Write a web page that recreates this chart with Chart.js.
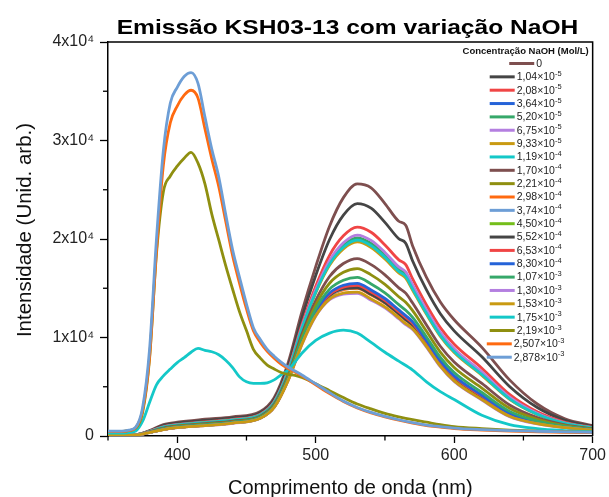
<!DOCTYPE html>
<html>
<head>
<meta charset="utf-8">
<script src="https://cdn.jsdelivr.net/npm/chart.js@4.4.1/dist/chart.umd.min.js"></script>
<style>
html,body{margin:0;padding:0;background:#fff;}
#wrap{width:609px;height:497px;position:relative;}
</style>
</head>
<body>
<div id="wrap"><canvas id="c" width="609" height="497"></canvas></div>
<script>
// ---------- DATA ----------
const TITLE = 'Emissão KSH03-13 com variação NaOH';
const X_TITLE = 'Comprimento de onda (nm)';
const Y_TITLE = 'Intensidade (Unid. arb.)';
const LEGEND_TITLE = 'Concentração NaOH (Mol/L)';

// wavelength grids (nm)
const WL_A = [350,370,380,390,400,420,440,460,470,480,490,500,510,520,530,540,550,560,565,570,580,590,600,620,640,660,680,700];
const WL_B = [350,355,360,365,370,375,380,385,390,395,400,405,410,415,420,425,430,435,440,445,450,455,460,465,470,475,480,485,490,500,510,520,530,540,550,560,570,580,590,600,620,640,660,680,700];

// legend labels: mantissa and power of ten
const CONC_MANT = ['0','1,04','2,08','3,64','5,20','6,75','9,33','1,19','1,70','2,21','2,98','3,74','4,50','5,52','6,53','8,30','1,07','1,30','1,53','1,75','2,19','2,507','2,878'];
const CONC_EXP  = [null,-5,-5,-5,-5,-5,-5,-4,-4,-4,-4,-4,-4,-4,-4,-4,-3,-3,-3,-3,-3,-3,-3];

const COLORS = ['#7e4f4f','#454545','#f04545','#2563d8','#36a86a','#b47fe0','#c99a12','#14c8c8','#7e4f4f','#8f8f10',
                '#ff6a10','#6d9ed6','#74be1a','#454545','#f04545','#2563d8','#36a86a','#b47fe0','#c99a12','#14c8c8',
                '#8f8f10','#ff6a10','#6d9ed6'];

// intensities on WL_A (530 nm band)
const INT_00 = [150,150,550,1150,1400,1700,1950,2500,3900,7400,12600,17200,21300,24200,25600,25200,23600,21800,21400,19300,16100,13600,11800,9000,5700,3250,1750,1050];
const INT_01 = [140,140,510,1060,1300,1580,1830,2370,3720,7070,12000,16290,19950,22430,23600,23140,21690,20020,19580,17770,14830,12420,10670,8040,5030,2890,1590,970];
const INT_02 = [130,130,470,950,1180,1440,1690,2220,3500,6680,11280,15200,18340,20320,21200,20680,19400,17880,17400,15940,13300,11000,9320,6880,4220,2450,1390,870];
const INT_03 = [125,125,450,895,1120,1370,1620,2140,3390,6480,10920,14650,17530,19250,19990,19440,18250,16800,16300,15020,12530,10290,8640,6300,3810,2230,1290,820];
const INT_04 = [125,125,450,900,1125,1375,1625,2150,3400,6500,10950,14700,17600,19350,20100,19550,18350,16900,16400,15100,12600,10350,8700,6350,3850,2250,1300,825];
const INT_05 = [126,126,455,914,1140,1393,1643,2169,3427,6549,11040,14835,17800,19610,20400,19855,18635,17165,16670,15330,12790,10530,8870,6490,3950,2300,1320,840];
const INT_06 = [123,123,443,882,1105,1352,1602,2125,3364,6435,10830,14520,17330,19000,19700,19140,17970,16550,16040,14800,12350,10120,8480,6160,3720,2180,1270,810];
const INT_07 = [124,124,446,890,1114,1362,1612,2136,3380,6464,10880,14600,17450,19160,19880,19320,18140,16700,16200,14930,12460,10220,8580,6240,3780,2210,1280,816];
const INT_08 = [116,116,412,805,1020,1252,1502,2017,3210,6158,10320,13750,16190,17510,18010,17400,16360,15040,14500,13500,11270,9115,7520,5340,3150,1870,1130,740];
const INT_09 = [111,111,394,759,970,1192,1442,1953,3118,5992,10020,13290,15510,16620,17000,16360,15390,14140,13580,12730,10630,8520,6950,4860,2810,1690,1050,700];
const INT_10 = [102,102,357,668,870,1073,1323,1825,2936,5665,9420,12380,14170,14850,15000,14310,13480,12350,11760,11200,9350,7330,5820,3890,2130,1320,880,620];
const INT_11 = [102,102,359,673,875,1079,1329,1832,2945,5681,9450,12425,14230,14940,15100,14410,13570,12440,11850,11280,9415,7390,5880,3940,2170,1340,890,620];
const INT_12 = [103,103,361,678,880,1086,1336,1839,2955,5699,9480,12475,14310,15030,15200,14520,13680,12540,11950,11360,9485,7460,5940,3990,2200,1360,900,625];
const INT_13 = [104,104,362,675,878,1080,1330,1830,2950,5700,9460,12450,14260,14960,15050,14380,13540,12420,11820,11250,9400,7380,5860,3920,2150,1330,885,618];
const INT_14 = [103,103,363,682,885,1092,1342,1845,2964,5715,9510,12520,14370,15120,15300,14620,13770,12630,12040,11440,9550,7520,6000,4040,2240,1380,908,629];
const INT_15 = [104,104,366,691,895,1103,1353,1857,2982,5748,9570,12610,14510,15300,15500,14830,13960,12800,12220,11590,9674,7633,6108,4135,2303,1414,924,637];
const INT_16 = [107,107,377,718,925,1138,1388,1895,3036,5845,9750,12880,14910,15820,16100,15440,14530,13330,12760,12040,10050,7980,6440,4420,2500,1520,972,661];
const INT_17 = [100,100,348,645,845,1044,1294,1793,2890,5582,9267,12150,13830,14400,14490,13790,13000,11900,11300,10820,9030,7035,5540,3650,1960,1230,841,596];
const INT_18 = [100,100,350,650,850,1050,1300,1800,2900,5600,9300,12200,13900,14500,14600,13900,13100,12000,11400,10900,9100,7100,5600,3700,2000,1250,850,600];

// intensities on WL_B (high NaOH, 410 nm band)
const INT_19 = [300,300,300,350,500,1500,3400,5200,6100,6800,7450,7950,8500,8900,8700,8550,8250,7700,6950,6000,5500,5350,5350,5400,5700,6200,6700,7500,8400,9700,10450,10750,10450,9500,8500,7600,6700,5500,4500,3700,2100,1150,750,550,430];
const INT_20 = [450,450,450,550,800,2400,7800,18500,24800,26400,27400,28200,28800,27700,25600,22500,19900,17300,14900,12600,10700,8800,7900,7200,6800,6450,6250,6150,5950,5300,4600,3900,3250,2750,2300,1950,1650,1400,1150,950,750,600,500,420,380];
const INT_21 = [450,450,450,550,850,2600,8000,18800,27500,31800,33500,34600,35100,34300,31200,28100,25300,21800,18300,15500,12900,10700,9500,8600,7900,7300,6850,6500,6100,5200,4300,3500,2850,2350,1950,1600,1300,1050,900,750,600,500,430,380,340];
const INT_22 = [500,500,500,600,900,2900,8800,20000,29000,33800,35400,36500,36900,35800,32400,29100,26300,22500,18900,16100,13400,11000,9800,8800,8100,7500,7000,6600,6200,5300,4400,3550,2900,2400,2000,1650,1350,1100,950,800,650,550,480,420,380];

const SERIES = [INT_00,INT_01,INT_02,INT_03,INT_04,INT_05,INT_06,INT_07,INT_08,INT_09,INT_10,INT_11,INT_12,INT_13,INT_14,INT_15,INT_16,INT_17,INT_18,INT_19,INT_20,INT_21,INT_22];

const X_TICKS = [400,500,600,700];
const Y_TICKS = [0,10000,20000,30000,40000];

// ---------- CHART ----------
const FONT = '"Liberation Sans", Arial, sans-serif';
const SUP = {'-':'⁻','0':'⁰','1':'¹','2':'²','3':'³','4':'⁴','5':'⁵','6':'⁶','7':'⁷','8':'⁸','9':'⁹'};
const toSup = s => String(s).split('').map(c => SUP[c] || c).join('');

const datasets = SERIES.map((vals, i) => {
  const wl = vals.length === WL_A.length ? WL_A : WL_B;
  return {
    label: CONC_MANT[i] + (CONC_EXP[i] !== null ? '×10' + toSup(CONC_EXP[i]) : ''),
    data: vals.map((v, k) => ({x: wl[k], y: v})),
    borderColor: COLORS[i],
    backgroundColor: COLORS[i],
    borderWidth: 2.8,
    pointRadius: 0,
    cubicInterpolationMode: 'monotone',
    fill: false,
    order: SERIES.length - 1 - i
  };
});

const isMajorX = v => X_TICKS.includes(v);
const isMajorY = v => Y_TICKS.includes(v);

const decorPlugin = {
  id: 'decor',
  afterDatasetsDraw(chart) {
    const ctx = chart.ctx, a = chart.chartArea;
    ctx.save();
    // frame top/right
    ctx.strokeStyle = '#000';
    ctx.lineWidth = 1.5;
    ctx.beginPath();
    ctx.moveTo(a.left, a.top);
    ctx.lineTo(a.right, a.top);
    ctx.lineTo(a.right, a.bottom);
    ctx.stroke();

    // minor ticks (shorter)
    ctx.lineWidth = 1.3;
    const xs = chart.scales.x, ys = chart.scales.y;
    xs.ticks.forEach(t => {
      if (isMajorX(t.value)) return;
      const px = xs.getPixelForValue(t.value);
      ctx.beginPath(); ctx.moveTo(px, a.bottom); ctx.lineTo(px, a.bottom + 4.5); ctx.stroke();
    });
    ys.ticks.forEach(t => {
      if (isMajorY(t.value)) return;
      const py = ys.getPixelForValue(t.value);
      ctx.beginPath(); ctx.moveTo(a.left, py); ctx.lineTo(a.left - 5, py); ctx.stroke();
    });

    // legend
    const cx = a.right - 67;
    ctx.fillStyle = '#111';
    ctx.font = 'bold 9.5px ' + FONT;
    ctx.textAlign = 'center';
    ctx.textBaseline = 'middle';
    ctx.fillText(LEGEND_TITLE, cx, a.top + 9.5);
    const y0 = a.top + 21.5, dy = 13.35;
    for (let i = 0; i < SERIES.length; i++) {
      const y = y0 + i * dy;
      const base = CONC_MANT[i] + (CONC_EXP[i] !== null ? '×10' : '');
      ctx.font = '10.5px ' + FONT;
      const wBase = ctx.measureText(base).width;
      let wExp = 0;
      const ex = CONC_EXP[i] !== null ? String(CONC_EXP[i]) : '';
      if (ex) { ctx.font = '7.5px ' + FONT; wExp = ctx.measureText(ex).width; }
      const lineLen = 25, gap = 2;
      const total = lineLen + gap + wBase + wExp;
      const x0 = cx - total / 2;
      ctx.strokeStyle = COLORS[i];
      ctx.lineWidth = 3;
      ctx.beginPath();
      ctx.moveTo(x0, y);
      ctx.lineTo(x0 + lineLen, y);
      ctx.stroke();
      ctx.fillStyle = '#222';
      ctx.textAlign = 'left';
      ctx.font = '10.5px ' + FONT;
      ctx.fillText(base, x0 + lineLen + gap, y + 0.5);
      if (ex) {
        ctx.font = '7.5px ' + FONT;
        ctx.fillText(ex, x0 + lineLen + gap + wBase, y - 3);
      }
    }
    ctx.restore();
  },
  afterDraw(chart) {
    const ctx = chart.ctx, a = chart.chartArea;
    ctx.save();
    ctx.fillStyle = '#000';
    // title
    ctx.font = 'bold 21px ' + FONT;
    ctx.textAlign = 'center';
    ctx.textBaseline = 'alphabetic';
    ctx.translate(347.5, 33.5);
    ctx.scale(1.17, 1);
    ctx.fillText(TITLE, 0, 0);
    ctx.restore();
    ctx.save();
    ctx.fillStyle = '#111';
    ctx.font = '20px ' + FONT;
    ctx.textAlign = 'center';
    ctx.textBaseline = 'alphabetic';
    ctx.fillText(X_TITLE, (a.left + a.right) / 2, 494);
    ctx.translate(25, 230);
    ctx.rotate(-Math.PI / 2);
    ctx.font = '20.5px ' + FONT;
    ctx.textBaseline = 'middle';
    ctx.fillText(Y_TITLE, 0, 0);
    ctx.restore();
  }
};

new Chart(document.getElementById('c'), {
  type: 'line',
  data: { datasets },
  options: {
    responsive: false,
    devicePixelRatio: 1,
    animation: false,
    events: [],
    layout: { padding: { top: 42, right: 13, left: 0, bottom: 0 } },
    plugins: { legend: { display: false }, title: { display: false }, tooltip: { enabled: false } },
    scales: {
      x: {
        type: 'linear', min: 350, max: 700,
        afterFit: s => { s.height = 61; },
        ticks: {
          stepSize: 50, padding: 3, color: '#222', maxRotation: 0, autoSkip: false,
          font: { family: FONT, size: 16 },
          callback: v => isMajorX(v) ? String(v) : ''
        },
        grid: { drawOnChartArea: false, drawTicks: true, tickLength: 7, tickWidth: 1.3,
                tickColor: c => (c.tick && isMajorX(c.tick.value)) ? '#000' : 'rgba(0,0,0,0)' },
        border: { display: true, color: '#000', width: 1.5 }
      },
      y: {
        type: 'linear', min: 0, max: 40000,
        afterFit: s => { s.width = 108; },
        ticks: {
          stepSize: 5000, padding: 6, color: '#222', autoSkip: false,
          font: { family: FONT, size: 16 },
          callback: v => isMajorY(v) ? (v === 0 ? '0' : (v / 10000) + 'x10⁴') : ''
        },
        grid: { drawOnChartArea: false, drawTicks: true, tickLength: 8, tickWidth: 1.3,
                tickColor: c => (c.tick && isMajorY(c.tick.value)) ? '#000' : 'rgba(0,0,0,0)' },
        border: { display: true, color: '#000', width: 1.5 }
      }
    }
  },
  plugins: [decorPlugin]
});
</script>
</body>
</html>
